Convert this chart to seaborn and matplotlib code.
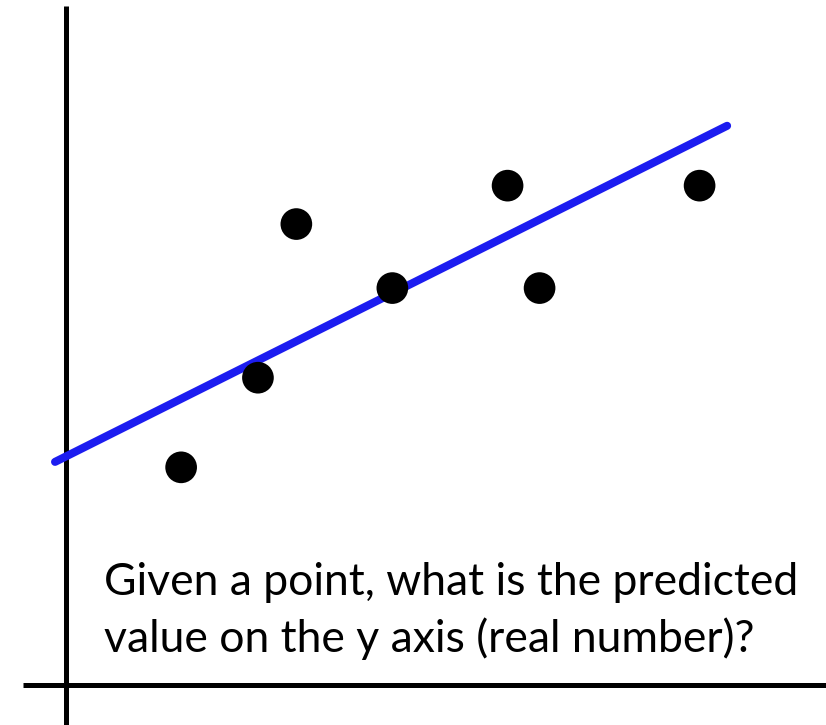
import matplotlib
matplotlib.use("Agg")
import matplotlib.pyplot as plt
import seaborn as sns
import pandas as pd

# Observed samples
x_obs = [1.8, 3.0, 3.6, 5.1, 6.9, 7.4, 9.9]
y_obs = [3.4, 4.8, 7.2, 6.2, 7.8, 6.2, 7.8]

# Fitted regression line: y = intercept + slope * x
intercept = 3.57
slope = 0.50
x_fit = [-0.17, 10.33]
y_fit = [intercept + slope * v for v in x_fit]

caption_lines = ["Given a point, what is the predicted",
                 "value on the y axis (real number)?"]

sns.set_theme(style="white")
plt.rcParams["font.family"] = ["Lato", "DejaVu Sans"]

W, H = 826, 725
fig = plt.figure(figsize=(W / 100, H / 100), dpi=100)
ax = fig.add_axes([0, 0, 1, 1])
ax.set_xlim(-1.03, 11.875)
ax.set_ylim(-0.625, 10.70)
ax.set_axis_off()

# Hand-drawn style axes crossing at the origin
ax.plot([0, 0], [-0.7, 10.6], color="black", lw=3.6, solid_capstyle="butt", zorder=1)
ax.plot([-0.67, 12], [0, 0], color="black", lw=3.6, solid_capstyle="butt", zorder=1)

fit_df = pd.DataFrame({"x": x_fit, "y": y_fit})
sns.lineplot(data=fit_df, x="x", y="y", ax=ax, color="#1c1cf0", lw=5.8,
             solid_capstyle="round", zorder=2)

obs_df = pd.DataFrame({"x": x_obs, "y": y_obs})
sns.scatterplot(data=obs_df, x="x", y="y", ax=ax, color="black", s=520,
                edgecolor="none", zorder=3)
ax.set_axis_off()

# Caption, one baseline per line
for line, base in zip(caption_lines, [595, 652]):
    fig.text(104 / W, 1 - base / H, line, fontsize=32, color="black",
             ha="left", va="baseline")

fig.savefig("out.png", dpi=100)
